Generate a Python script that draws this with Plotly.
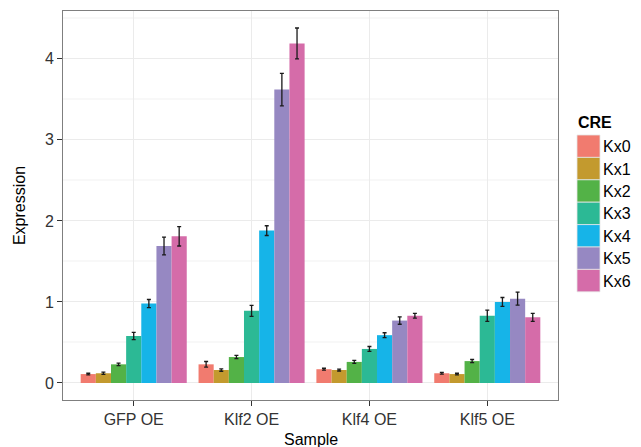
import plotly.graph_objects as go

samples = ["GFP OE", "Klf2 OE", "Klf4 OE", "Klf5 OE"]
cre = ["Kx0", "Kx1", "Kx2", "Kx3", "Kx4", "Kx5", "Kx6"]
colors = ["#F17B6F", "#C39A2E", "#53B247", "#2CB995", "#16B4E8", "#9688C2", "#D56CA9"]

kx0 = [0.11, 0.23, 0.17, 0.12]
kx1 = [0.12, 0.16, 0.16, 0.11]
kx2 = [0.23, 0.32, 0.26, 0.27]
kx3 = [0.58, 0.89, 0.42, 0.83]
kx4 = [0.98, 1.88, 0.59, 1.00]
kx5 = [1.69, 3.62, 0.77, 1.04]
kx6 = [1.81, 4.19, 0.83, 0.81]

err0 = [0.01, 0.035, 0.012, 0.01]
err1 = [0.015, 0.015, 0.012, 0.01]
err2 = [0.015, 0.02, 0.018, 0.02]
err3 = [0.045, 0.068, 0.03, 0.07]
err4 = [0.05, 0.06, 0.03, 0.055]
err5 = [0.11, 0.2, 0.045, 0.08]
err6 = [0.12, 0.19, 0.03, 0.05]

values = [kx0, kx1, kx2, kx3, kx4, kx5, kx6]
errors = [err0, err1, err2, err3, err4, err5, err6]

FONT = "Liberation Sans, Arial, sans-serif"
FS = 16

# the page body adds an 8px margin, so the figure is drawn 8px smaller and offset
OFF = 8
W, H = 641 - OFF, 447 - OFF

fig = go.Figure()
for name, vals, errs, col in zip(cre, values, errors, colors):
    fig.add_trace(go.Bar(
        x=samples, y=vals, name=name, marker_color=col, marker_line_width=0,
        error_y=dict(type="data", array=errs, color="#1a1a1a", thickness=1.3, width=2),
        showlegend=False,
    ))

# plot-area geometry in page pixels
L, R, T, B = 63, 558, 11, 400
def px_x(p):
    return (p - L) / (R - L)
def px_y(p):
    return (B - p) / (B - T)

shapes = []
annotations = []
annotations.append(dict(text="Sample", x=0.5, y=px_y(440), xref="paper", yref="paper",
                        xanchor="center", yanchor="middle", showarrow=False,
                        font=dict(family=FONT, size=FS, color="#000000")))
annotations.append(dict(text="<b>CRE</b>", x=px_x(576), y=px_y(123), xref="paper", yref="paper",
                        xanchor="left", yanchor="middle", showarrow=False,
                        font=dict(family=FONT, size=FS, color="#000000")))
key_top, key_h = 135, 22.4
for i, (name, col) in enumerate(zip(cre, colors)):
    y0 = key_top + i * key_h
    shapes.append(dict(type="rect", xref="paper", yref="paper",
                       x0=px_x(577), x1=px_x(600), y0=px_y(y0), y1=px_y(y0 + key_h),
                       fillcolor=col, line=dict(color="#e6e6e6", width=0.8)))
    annotations.append(dict(text=name, x=px_x(601), y=px_y(y0 + key_h / 2 + 0.5), xref="paper", yref="paper",
                            xanchor="left", yanchor="middle", showarrow=False,
                            font=dict(family=FONT, size=FS, color="#000000")))

fig.update_layout(
    width=W, height=H,
    margin=dict(l=L - OFF, r=641 - R, t=T - OFF, b=447 - B, autoexpand=False),
    paper_bgcolor="white", plot_bgcolor="white",
    barmode="group", bargap=0.1, bargroupgap=0,
    font=dict(family=FONT, size=FS, color="#333333"),
    shapes=shapes, annotations=annotations,
    showlegend=False,
)
fig.update_xaxes(
    range=[-0.6, 3.6], showgrid=True, gridcolor="#ebebeb", gridwidth=1.2,
    showline=True, mirror=True, linecolor="#7f7f7f", linewidth=1,
    ticks="outside", ticklen=5, tickcolor="#333333", tickwidth=1,
    tickfont=dict(family=FONT, size=FS, color="#333333"),
    zeroline=False, automargin=False,
)
fig.update_yaxes(
    range=[-0.21, 4.59], tickvals=[0, 1, 2, 3, 4], showgrid=True, gridcolor="#ebebeb", gridwidth=1.2,
    minor=dict(tickvals=[0.5, 1.5, 2.5, 3.5, 4.5], showgrid=True, gridcolor="#f8f8f8", gridwidth=2),
    showline=True, mirror=True, linecolor="#7f7f7f", linewidth=1,
    ticks="outside", ticklen=5, tickcolor="#333333", tickwidth=1,
    tickfont=dict(family=FONT, size=FS, color="#333333"),
    title=dict(text="Expression", font=dict(family=FONT, size=FS, color="#000000"), standoff=15),
    zeroline=False, automargin=False,
)

fig.write_html("out.html")
